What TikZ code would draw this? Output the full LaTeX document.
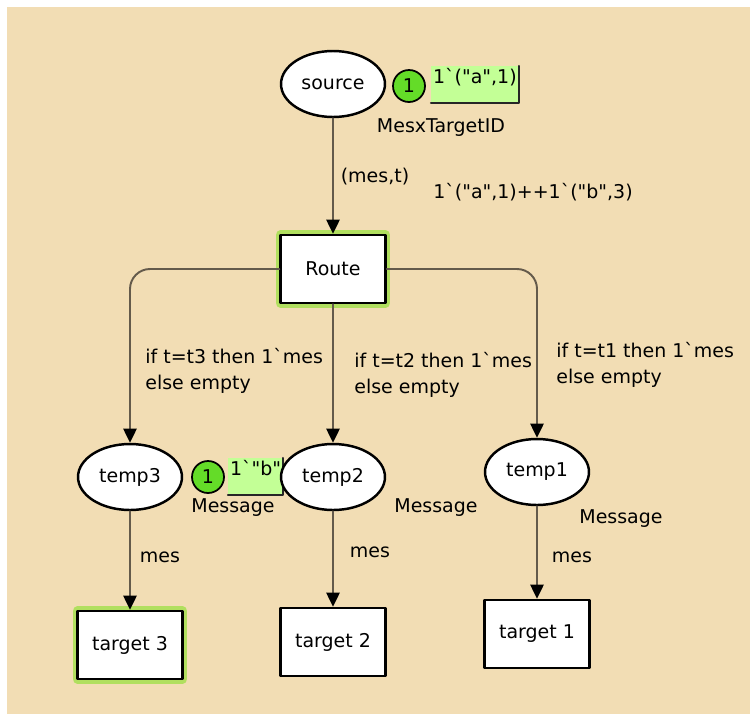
\documentclass[tikz,border=0pt]{standalone}
\usepackage{fontspec}
\setmainfont{DejaVu Sans}
\usetikzlibrary{arrows.meta, positioning, shapes, calc, shapes.geometric}
\definecolor{CPNbeige}{RGB}{242,221,180}
\definecolor{CPNgreen}{RGB}{100,220,40}
\definecolor{CPNlight}{RGB}{195,255,150}
\definecolor{CPNglow}{RGB}{150,225,60}
\definecolor{CPNarc}{RGB}{100,90,75}
\newcommand{\bq}{\textasciigrave}
\newcommand{\dq}{\textquotedbl}
\tikzset{every node/.style={font=\fontsize{10.8}{14.7}\selectfont}, every path/.style={line cap=round, line join=round}, >={Triangle[length=8pt, width=7.5pt, color=black]}}
\tikzset{
    place/.style={ellipse, draw, line width=1.4pt, fill=white, minimum width=2.08cm, minimum height=1.32cm, inner sep=0pt},
    trans/.style={rectangle, draw, line width=1.4pt, fill=white, minimum width=2.1cm, minimum height=1.36cm},
    glow/.style={preaction={draw=CPNglow, line width=5.5pt, opacity=.7}},
    token/.style={circle, draw, line width=1pt, fill=CPNgreen, minimum size=0.64cm, inner sep=0pt},
    marking/.style={fill=CPNlight, inner xsep=1pt, inner ysep=1pt, text depth=10pt},
    shadowline/.style={draw=black!85, line width=1.2pt},
    arc/.style={->, draw=CPNarc, line width=1.1pt},
    inscr/.style={inner sep=0pt}
}

\begin{document}
\begin{tikzpicture}[x=0.02cm, y=-0.02cm]
    % canvas
    \fill [white] (0,0) rectangle (750,714);
    \fill [CPNbeige] (7,7) rectangle (750,714);
    \useasboundingbox (0,0) rectangle (750,714);

    % current markings
    \node [token] (tokS) at (409,86) {1};
    \node [marking, anchor=north west, minimum width=1.7cm] (markS) at (431,66) {1\bq(\dq a\dq,1)};
    \draw [shadowline] (markS.north east) -- (markS.south east) -- (markS.south west);
    \node [token] (tok2) at (208,477) {1};
    \node [marking, anchor=north west, minimum width=1.04cm] (mark2) at (228,458) {1\bq\dq b\dq};
    \draw [shadowline] (mark2.north east) -- (mark2.south east) -- (mark2.south west);

    % places
    \node [place] (source) at (333,84) {source};
    \node [place] (temp3) at (130,477) {temp3};
    \node [place] (temp2) at (333,477) {temp2};
    \node [place] (temp1) at (537,472) {temp1};

    % transitions
    \node [trans, glow] (route) at (333,269) {Route};
    \node [trans, glow] (target3) at (130,645) {target 3};
    \node [trans] (target2) at (333,642) {target 2};
    \node [trans] (target1) at (537,634) {target 1};

    % arcs
    \draw [arc] (source) -- (route);
    \draw [arc, rounded corners=0.4cm] (route.west) -| (temp3.north);
    \draw [arc] (route) -- (temp2);
    \draw [arc, rounded corners=0.4cm] (route.east) -| (temp1.north);
    \draw [arc] (temp3) -- (target3);
    \draw [arc] (temp2) -- (target2);
    \draw [arc] (temp1) -- (target1);

    % inscriptions
    \node [inscr] (typeS) at (441,128) {MesxTargetID};
    \node [inscr] (initS) at (533,192) {1\bq(\dq a\dq,1)++1\bq(\dq b\dq,3)};
    \node [inscr] (arcSR) at (375,177) {(mes,t)};
    \node [inscr, align=left, anchor=west] (guard3) at (145,371) {if t=t3 then 1\bq mes\\else empty};
    \node [inscr, align=left, anchor=west] (guard2) at (354,375) {if t=t2 then 1\bq mes\\else empty};
    \node [inscr, align=left, anchor=west] (guard1) at (556,365) {if t=t1 then 1\bq mes\\else empty};
    \node [inscr] (type3) at (233,508) {Message};
    \node [inscr] (type2) at (436,508) {Message};
    \node [inscr] (type1) at (621,519) {Message};
    \node [inscr] (arc3) at (160,557) {mes};
    \node [inscr] (arc2) at (370,552) {mes};
    \node [inscr] (arc1) at (572,557) {mes};
\end{tikzpicture}
\end{document}
